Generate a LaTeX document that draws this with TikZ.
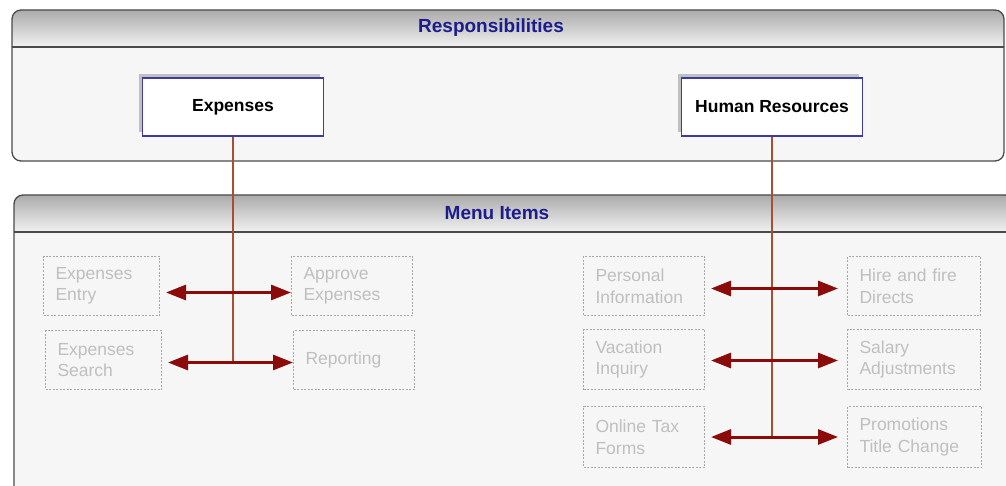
\documentclass[tikz,border=0pt]{standalone}
\usepackage{fontspec}
\setmainfont{Liberation Sans}
\usetikzlibrary{arrows.meta,shadows}
\definecolor{titleblue}{HTML}{1C1C8C}
\definecolor{boxblue}{HTML}{3A3AA8}
\definecolor{itemgray}{HTML}{BFBFBF}
\definecolor{itemborder}{HTML}{A8A8A8}
\definecolor{linkbrown}{HTML}{A8502E}
\definecolor{arrowred}{HTML}{8B0A0A}
\definecolor{panelbody}{HTML}{F6F6F6}
\definecolor{panelborder}{HTML}{4A4A4A}
\definecolor{hdrtop}{HTML}{ABABAB}
\definecolor{hdrbot}{HTML}{F2F2F2}
\begin{document}
\begin{tikzpicture}[x=1pt,y=-1pt,
  paneltitle/.style={text=titleblue, font=\fontsize{19}{22}\selectfont\bfseries, inner sep=0pt},
  resbox/.style={draw=boxblue, line width=1.2pt, fill=white, minimum width=181pt, minimum height=58pt,
    inner sep=0pt, font=\fontsize{17.5}{20}\selectfont\bfseries,
    drop shadow={shadow xshift=-4pt, shadow yshift=4pt, fill=gray, opacity=0.45}},
  item/.style={draw=itemborder, dash pattern=on 2pt off 1.5pt, line width=1pt, text=itemgray,
    font=\fontsize{17.5}{21.5}\selectfont, align=left, anchor=north west,
    inner xsep=12pt, inner ysep=0pt, minimum height=59pt, text width=#1},
  link/.style={draw=linkbrown, line width=1.6pt},
  biarrow/.style={draw=arrowred, line width=3pt, {Triangle[length=20pt,width=15pt]}-{Triangle[length=20pt,width=15pt]}},
  panelline/.style={draw=panelborder, line width=1.3pt}
]
\clip (0,0) rectangle (1006,486);
\fill[white] (0,0) rectangle (1006,486);

% Responsibilities panel
\begin{scope}
  \clip[rounded corners=9pt] (12,10) rectangle (1004,161);
  \fill[panelbody] (12,10) rectangle (1004,161);
  \shade[top color=hdrtop, bottom color=hdrbot] (12,10) rectangle (1004,47);
\end{scope}
\draw[panelline] (12,47) -- (1004,47);
\draw[panelline, rounded corners=9pt] (12,10) rectangle (1004,161);
\node[paneltitle] (resptitle) at (491,28) {Responsibilities};

% Menu Items panel
\begin{scope}
  \clip[rounded corners=9pt] (14,195) rectangle (1014,500);
  \fill[panelbody] (14,195) rectangle (1014,500);
  \shade[top color=hdrtop, bottom color=hdrbot] (14,195) rectangle (1014,232);
\end{scope}
\draw[panelline] (14,232) -- (1014,232);
\draw[panelline, rounded corners=9pt] (14,195) rectangle (1014,500);
\node[paneltitle] (menutitle) at (497,213) {Menu Items};

% Responsibility boxes
\node[resbox] (exp) at (233,107) {Expenses};
\node[resbox] (hr) at (772,107) {Human Resources};

% Menu item boxes
\node[item=92pt] (entry) at (43,256) {Expenses\\Entry};
\node[item=92pt] (search) at (45,330) {Expenses\\Search};
\node[item=97pt] (approve) at (291,256) {Approve\\Expenses};
\node[item=97pt] (reporting) at (293,330) {Reporting};

\node[item=97pt] (personal) at (583,256) {Personal\\Information};
\node[item=97pt, minimum height=60pt] (vacation) at (583,329) {Vacation\\Inquiry};
\node[item=97pt, minimum height=61pt] (online) at (583,406) {Online Tax\\Forms};
\node[item=109pt] (hire) at (847,256) {Hire and fire\\Directs};
\node[item=109pt, minimum height=60pt] (salary) at (847,329) {Salary\\Adjustments};
\node[item=110pt, minimum height=61pt] (promo) at (847,406) {Promotions\\Title Change};

% vertical links
\path (exp.south |- search.east) ++(0,2.5) coordinate (ejoin);
\draw[link] (exp.south) -- (ejoin);
\path (hr.south |- online.east) coordinate (hjoin);
\draw[link] (hr.south) -- (hjoin);

% double arrows
\draw[biarrow, shorten <=6pt] ([yshift=-6.5pt]entry.east) -- ([yshift=-6.5pt]approve.west);
\draw[biarrow, shorten <=6pt] ([yshift=-2.5pt]search.east) -- ([yshift=-2.5pt]reporting.west);
\draw[biarrow, shorten <=6pt, shorten >=9pt] ([yshift=-2.5pt]personal.east) -- ([yshift=-2.5pt]hire.west);
\draw[biarrow, shorten <=6pt, shorten >=9pt] ([yshift=-1pt]vacation.east) -- ([yshift=-1pt]salary.west);
\draw[biarrow, shorten <=6pt, shorten >=9pt] (online.east) -- (promo.west);
\end{tikzpicture}
\end{document}
